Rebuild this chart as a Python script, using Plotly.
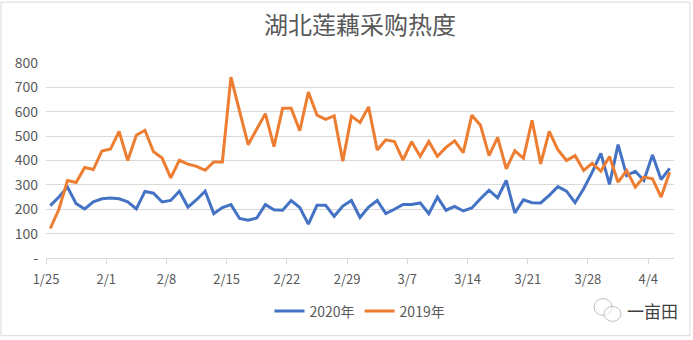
import plotly.graph_objects as go

# Daily purchase-interest index, 1/25 through 4/6
date_labels = ["1/25", "2/1", "2/8", "2/15", "2/22", "2/29", "3/7", "3/14", "3/21", "3/28", "4/4"]

heat_2020 = [215, 250, 291, 223, 201, 230, 243, 246, 243, 230,
             201, 273, 266, 230, 236, 274, 209, 239, 274, 182,
             207, 219, 162, 155, 164, 219, 198, 196, 236, 207,
             139, 216, 216, 171, 213, 236, 166, 209, 236, 182,
             200, 220, 220, 226, 182, 250, 196, 212, 193, 205,
             243, 278, 247, 318, 185, 239, 227, 226, 257, 293,
             274, 227, 284, 352, 429, 302, 465, 338, 356, 318,
             423, 322, 368]

heat_2019 = [121, 200, 318, 310, 371, 363, 439, 447, 519, 400,
             504, 524, 436, 410, 329, 401, 385, 376, 360, 394,
             394, 742, 603, 465, 529, 592, 457, 614, 614, 522,
             681, 586, 569, 583, 397, 582, 556, 620, 443, 485,
             478, 402, 477, 417, 478, 417, 454, 481, 432, 586,
             545, 420, 495, 366, 440, 409, 565, 386, 519, 444,
             400, 420, 359, 389, 356, 416, 311, 359, 291, 332,
             325, 250, 352]

y_ticks = [0, 100, 200, 300, 400, 500, 600, 700, 800]
y_tick_text = ["-"] + [str(v) for v in y_ticks[1:]]

W, H = 693, 340
ML, MR, MT, MB = 46, 19, 63, 80

idx = list(range(len(heat_2020)))
FONT = "Noto Sans CJK SC"
GREY = "#595959"
GRID = "#d9d9d9"

fig = go.Figure()
fig.add_trace(go.Scatter(x=idx, y=heat_2020, mode="lines", name="2020年",
                         line=dict(color="#4472C4", width=3)))
fig.add_trace(go.Scatter(x=idx, y=heat_2019, mode="lines", name="2019年",
                         line=dict(color="#ED7D31", width=3)))


def px_x(x):
    return (x - ML) / (W - ML - MR)


def px_y(y):
    return (H - MB - y) / (H - MT - MB)


# small chat-bubble logo next to the watermark text
logo = [
    dict(type="circle", x0=px_x(594), x1=px_x(612), y0=px_y(318), y1=px_y(301)),
    dict(type="circle", x0=px_x(604), x1=px_x(621), y0=px_y(324), y1=px_y(309)),
]
shapes = []
for s in logo:
    s.update(xref="paper", yref="paper", line=dict(color="#bfbfbf", width=1),
             fillcolor="rgba(255,255,255,0.6)")
    shapes.append(s)

# outer chart-area border
shapes.append(dict(type="rect", xref="paper", yref="paper",
                   x0=px_x(1), x1=px_x(690), y0=px_y(338.5), y1=px_y(1.5),
                   line=dict(color=GRID, width=1), layer="below"))

fig.update_layout(
    width=W, height=H,
    margin=dict(l=ML, r=MR, t=MT, b=MB),
    paper_bgcolor="white", plot_bgcolor="white",
    font=dict(family=FONT, color=GREY, size=13),
    title=dict(text="湖北莲藕采购热度", x=0.5, xref="paper", y=1 - 26 / H, yanchor="middle",
               xanchor="center", font=dict(size=24, color=GREY, family=FONT)),
    showlegend=True,
    legend=dict(orientation="h", x=0.5, xanchor="center", y=px_y(314), yanchor="middle",
                font=dict(size=14, color=GREY), itemwidth=30, bgcolor="rgba(0,0,0,0)"),
    shapes=shapes,
    annotations=[dict(text="一亩田", xref="paper", yref="paper", x=px_x(652), y=px_y(313),
                      xanchor="center", yanchor="middle", showarrow=False,
                      font=dict(size=17, color="#404040", family=FONT))],
)

fig.update_xaxes(range=[-0.5, len(idx) - 0.5],
                 tickvals=[-0.5 + 7 * k for k in range(len(date_labels))],
                 ticktext=date_labels,
                 showgrid=False, zeroline=False,
                 showline=True, linecolor=GRID, linewidth=1,
                 ticks="outside", ticklen=5, tickcolor=GRID,
                 tickfont=dict(size=13, color=GREY, family=FONT),
                 ticklabelstandoff=4)
fig.update_yaxes(range=[0, 800], tickvals=y_ticks, ticktext=y_tick_text,
                 showgrid=True, gridcolor=GRID, gridwidth=1,
                 zeroline=False, showline=False,
                 tickfont=dict(size=14, color=GREY, family=FONT),
                 ticklabelstandoff=7)

fig.write_html("out.html")
